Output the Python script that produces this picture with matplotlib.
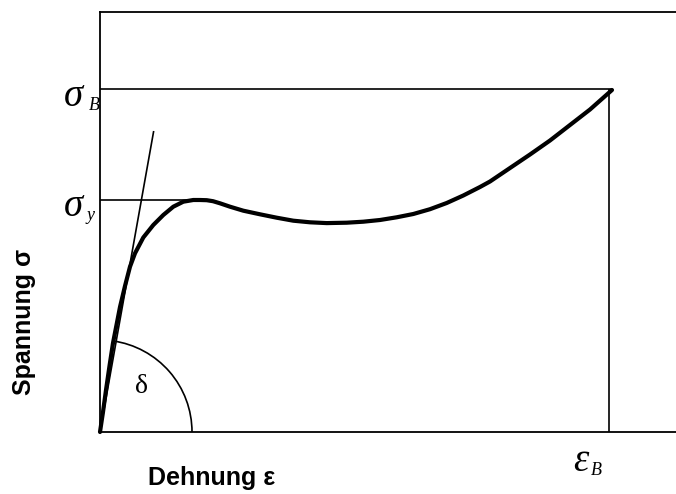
import matplotlib
matplotlib.use("Agg")
import matplotlib.pyplot as plt
from matplotlib.patches import Arc

# Schematic stress-strain curve (arbitrary units)
strain = [0, 3, 6, 9.5, 13, 20, 25, 30, 35, 43.3, 53.3, 63.3, 73.3, 83.3, 93.3,
          100, 106.7, 113, 120, 130, 143.3, 160, 176.7, 193.3, 210, 226.7,
          246.7, 263.3, 280, 296.7, 313.3, 330, 346.7, 363.3, 380, 390, 410,
          430, 450, 470, 490, 512]
stress = [0, 20, 42, 66, 89, 125, 146, 165.3, 178.7, 194.5, 207, 217, 225.3,
          230.3, 232, 232, 231.8, 230.8, 228.7, 225.3, 221.3, 217.7, 214.3,
          211.3, 209.7, 208.9, 209.3, 210.3, 212, 214.7, 218, 222.8, 229,
          236.5, 245, 250.5, 264, 277.5, 291.5, 307, 322.5, 342]

sigma_B = 343      # tensile strength
sigma_y = 232      # yield stress
eps_B = 509        # strain at break
tangent_end = (53.7, 301)   # initial slope line
arc_radius = 92
arc_angle = 82     # angle delta

fig = plt.figure(figsize=(6.76, 4.94), dpi=100)
W, H = 676, 494
ax = fig.add_axes([100 / W, (494 - 432) / H, 576 / W, 420 / H])
ax.set_xlim(0, 576)
ax.set_ylim(0, 420)
ax.set_xticks([])
ax.set_yticks([])
ax.spines["right"].set_visible(False)
for s in ("left", "top", "bottom"):
    ax.spines[s].set_linewidth(1.3)

thin = dict(color="black", lw=1.2, solid_capstyle="butt")
ax.plot([0, eps_B + 3], [sigma_B, sigma_B], **thin)
ax.plot([eps_B, eps_B], [0, sigma_B], **thin)
ax.plot([0, 105], [sigma_y, sigma_y], **thin)
ax.plot([0, tangent_end[0]], [0, tangent_end[1]], **thin)
ax.add_patch(Arc((0, 0), 2 * arc_radius, 2 * arc_radius, theta1=0,
                 theta2=arc_angle, color="black", lw=1.2))

ax.plot(strain, stress, color="black", lw=3.0, solid_joinstyle="round",
        solid_capstyle="round", clip_on=False)

serif_it = dict(family="Liberation Serif", style="italic", color="black")
fig.text(73 / W, 1 - 97 / H, "σ", fontsize=28, ha="center", va="center", **serif_it)
fig.text(94 / W, 1 - 106 / H, "B", fontsize=13, ha="center", va="center", **serif_it)
fig.text(73 / W, 1 - 206 / H, "σ", fontsize=28, ha="center", va="center", **serif_it)
fig.text(90 / W, 1 - 215 / H, "y", fontsize=13, ha="center", va="center", **serif_it)
fig.text(581 / W, 1 - 461 / H, "ε", fontsize=28, ha="center", va="center", **serif_it)
fig.text(596 / W, 1 - 470 / H, "B", fontsize=13, ha="center", va="center", **serif_it)

ax.text(42, 46, "δ", fontsize=20, family="Liberation Serif", ha="center", va="center")

fig.text(24 / W, 1 - 322 / H, "Spannung σ", fontsize=18, fontweight="bold",
         family="Liberation Sans", rotation=90, ha="center", va="center")
fig.text(212 / W, 1 - 478 / H, "Dehnung ε", fontsize=18, fontweight="bold",
         family="Liberation Sans", ha="center", va="center")

fig.savefig("out.png", dpi=100)
